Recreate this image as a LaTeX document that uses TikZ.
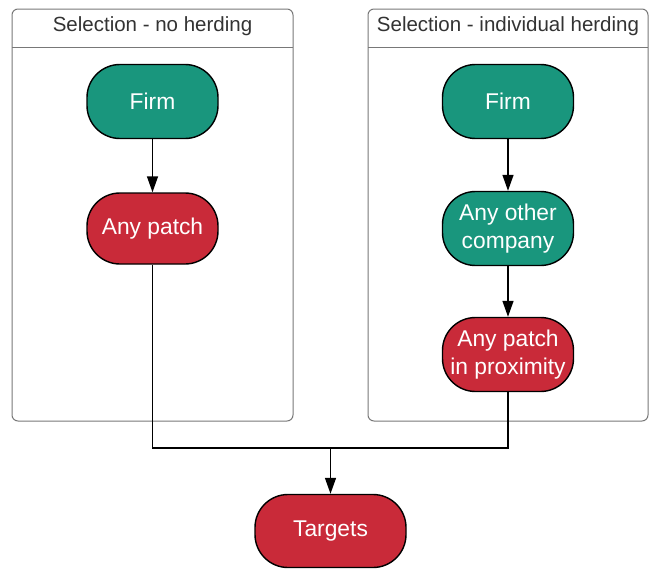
\documentclass[tikz,border=0pt]{standalone}
\usepackage{fontspec}
\setmainfont{Liberation Sans}
\usepackage{xcolor}
\usepackage{tikz}
\usetikzlibrary{arrows.meta,positioning}
\definecolor{firmcolor}{RGB}{25, 150, 125}
\definecolor{patchcolor}{RGB}{201, 42, 57}
\definecolor{framecolor}{RGB}{120, 120, 120}
\definecolor{titlecolor}{RGB}{51, 51, 51}

\begin{document}
\begin{tikzpicture}[x=1pt, y=-1pt, node distance=127pt]
    % Define styles
    \tikzstyle{stadium} = [rectangle, minimum width=131pt, minimum height=74pt, text centered, align=center, draw=black, line width=1.4pt, rounded corners=33pt, text=white, font=\fontsize{22.8}{27.5}\selectfont]
    \tikzstyle{firm} = [stadium, fill=firmcolor]
    \tikzstyle{patch} = [stadium, fill=patchcolor]
    \tikzstyle{panel} = [draw=framecolor, line width=1pt, rounded corners=6pt]
    \tikzstyle{paneltitle} = [text=titlecolor, font=\fontsize{20.5}{24}\selectfont]
    \tikzstyle{line} = [line width=1.4pt, black]
    \tikzstyle{arrow} = [line, -{Triangle[length=16pt, width=11pt]}]

    \useasboundingbox (0,0) rectangle (649,570);

    % Panels
    \draw [panel] (12,9) rectangle (293,421);
    \draw [framecolor, line width=1pt] (12,47) -- (293,47);
    \node [paneltitle] (lefttitle) at (152.5,26) {Selection - no herding};
    \draw [panel] (368,9) rectangle (648,421);
    \draw [framecolor, line width=1pt] (368,47) -- (648,47);
    \node [paneltitle] (righttitle) at (508,26) {Selection - individual herding};

    % No herding (left side)
    \node [firm] (firmleft) at (152.5,101.5) {Firm};
    \node [patch, below of=firmleft, minimum height=71pt] (anypatch) {Any patch};

    % Individual herding (right side)
    \node [firm] (firmright) at (508,101.5) {Firm};
    \node [firm, below of=firmright] (othercompany) {Any other\\company};
    \node [patch, below of=othercompany, yshift=1pt] (proximity) {Any patch\\in proximity};

    % Common target
    \node [patch, minimum width=151pt, minimum height=73pt] (targets) at (330.5,531) {Targets};
    \coordinate (join) at (330.5,448);

    % Arrows
    \draw [arrow] (firmleft) -- (anypatch);
    \draw [arrow] (firmright) -- (othercompany);
    \draw [arrow] (othercompany) -- (proximity);
    \draw [line] (anypatch.south) |- (join);
    \draw [line] (proximity.south) |- (join);
    \draw [arrow] (join) -- (targets);
\end{tikzpicture}
\end{document}
